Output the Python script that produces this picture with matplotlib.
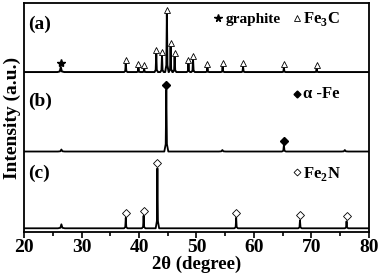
import matplotlib
matplotlib.use('Agg')
import matplotlib.pyplot as plt
from matplotlib.ticker import MultipleLocator

plt.rcParams['font.family'] = ['Liberation Serif', 'DejaVu Serif']
plt.rcParams['font.weight'] = 'bold'
plt.rcParams['mathtext.fontset'] = 'custom'
plt.rcParams['mathtext.rm'] = 'Liberation Serif:bold'

# (a) graphite + Fe3C
a_graphite = [26.4]
a_graphite_h = [5]
a_fe3c = [37.7, 39.9, 40.9, 43.0, 44.0, 44.85, 45.5, 46.2, 48.6, 49.4, 51.9, 54.55, 58.1, 65.2, 70.9]
a_fe3c_h = [8, 4, 3, 18, 16, 58, 25, 15, 8, 12, 4, 5, 5, 4, 3]

# (b) alpha-Fe
b_small = [26.5, 54.5, 75.8]
b_small_h = [2, 1.5, 1.5]
b_fe = [44.75, 65.2]
b_fe_h = [62, 6.5]

# (c) Fe2N
c_small = [26.5]
c_small_h = [4]
c_fe2n = [37.7, 40.8, 43.2, 56.9, 68.0, 76.1]
c_fe2n_h = [10.5, 12.5, 60, 10.5, 8, 7]

offsets = [160, 80.5, 3.7]


def pattern(peaks, heights, widths):
    pts = sorted(zip(peaks, heights, widths))
    xs, ys = [20], [0]
    for p, h, w in pts:
        xs += [p - w, p - w * 0.3, p, p + w * 0.3, p + w]
        ys += [0, h * 0.12, h, h * 0.12, 0]
    xs.append(80)
    ys.append(0)
    return xs, ys


fig = plt.figure(figsize=(3.8, 2.79), dpi=100)
ax = fig.add_axes([0.0632, 0.1685, 0.9078, 0.8205])

ax_x, ay = pattern(a_graphite + a_fe3c, a_graphite_h + a_fe3c_h,
                   [0.6] + [0.3] * len(a_fe3c))
ax.plot(ax_x, [v + offsets[0] for v in ay], color='black', lw=1.4)
bx, by = pattern(b_small + b_fe, b_small_h + b_fe_h,
                 [0.6] * len(b_small) + [0.35] * len(b_fe))
ax.plot(bx, [v + offsets[1] for v in by], color='black', lw=1.3)
cx, cy = pattern(c_small + c_fe2n, c_small_h + c_fe2n_h,
                 [0.6] + [0.3] * len(c_fe2n))
ax.plot(cx, [v + offsets[2] for v in cy], color='black', lw=1.3)

# phase markers
ax.plot(a_graphite, [offsets[0] + h + 4.5 for h in a_graphite_h], ls='none',
        marker='*', ms=6, color='black')
ax.plot(a_fe3c, [offsets[0] + h + 4.5 for h in a_fe3c_h], ls='none',
        marker='^', ms=5, mfc='white', mec='black', mew=0.6)
ax.plot(b_fe, [offsets[1] + h + 4.5 for h in b_fe_h], ls='none',
        marker='D', ms=3.7, color='black')
ax.plot(c_fe2n, [offsets[2] + h + 5 for h in c_fe2n_h], ls='none',
        marker='D', ms=4, mfc='white', mec='black', mew=0.6)

# legends
ax.plot([0.562], [0.935], transform=ax.transAxes, marker='*', ms=5.5, color='black')
ax.text(0.585, 0.93, 'graphite', transform=ax.transAxes, fontsize=11,
        fontweight='bold', va='center', ha='left')
ax.plot([0.79], [0.935], transform=ax.transAxes, marker='^', ms=4.5,
        mfc='white', mec='black', mew=0.6)
ax.text(0.81, 0.93, r'Fe$_3$C', transform=ax.transAxes, fontsize=12,
        fontweight='bold', va='center', ha='left')
ax.plot([0.79], [0.603], transform=ax.transAxes, marker='D', ms=3.5, color='black')
ax.text(0.81, 0.603, 'α -Fe', transform=ax.transAxes, fontsize=12,
        fontweight='bold', va='center', ha='left')
ax.plot([0.79], [0.26], transform=ax.transAxes, marker='D', ms=3.5,
        mfc='white', mec='black', mew=0.6)
ax.text(0.81, 0.255, r'Fe$_2$N', transform=ax.transAxes, fontsize=12,
        fontweight='bold', va='center', ha='left')

# panel labels
ax.text(0.012, 0.905, '(a)', transform=ax.transAxes, fontsize=14, fontweight='bold', va='center')
ax.text(0.012, 0.57, '(b)', transform=ax.transAxes, fontsize=14, fontweight='bold', va='center')
ax.text(0.012, 0.258, '(c)', transform=ax.transAxes, fontsize=14, fontweight='bold', va='center')

ax.set_xlim(20, 80)
ax.set_ylim(0, 229)
ax.set_yticks([])
ax.xaxis.set_major_locator(MultipleLocator(10))
ax.xaxis.set_minor_locator(MultipleLocator(5))
ax.tick_params(axis='x', which='major', direction='out', length=4, width=1.2,
               labelsize=14, pad=1)
ax.tick_params(axis='x', which='minor', direction='out', length=3, width=1.2)
for s in ax.spines.values():
    s.set_linewidth(1.3)
for lab in ax.get_xticklabels():
    lab.set_fontweight('bold')

ax.set_xlabel('2θ (degree)', fontsize=13.5, fontweight='bold', labelpad=0)
ax.set_ylabel('Intensity (a.u.)', fontsize=14, fontweight='bold', labelpad=2)

fig.savefig('out.png', dpi=100)
